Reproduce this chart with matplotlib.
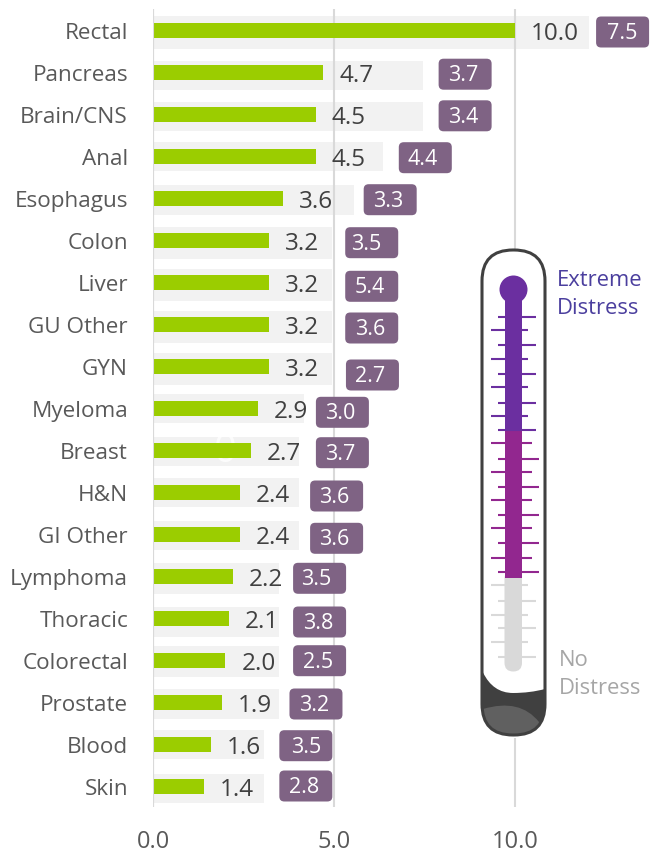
import numpy as np
import matplotlib
matplotlib.use('Agg')
import matplotlib.pyplot as plt
from matplotlib.patches import FancyBboxPatch, Circle, PathPatch, Rectangle
from matplotlib.path import Path
from matplotlib.transforms import IdentityTransform, ScaledTranslation

plt.rcParams['font.family'] = ['Open Sans', 'DejaVu Sans']

# data
cancers = ['Rectal', 'Pancreas', 'Brain/CNS', 'Anal', 'Esophagus', 'Colon', 'Liver',
           'GU Other', 'GYN', 'Myeloma', 'Breast', 'H&N', 'GI Other', 'Lymphoma',
           'Thoracic', 'Colorectal', 'Prostate', 'Blood', 'Skin']
green_vals = [10.0, 4.7, 4.5, 4.5, 3.6, 3.2, 3.2, 3.2, 3.2, 2.9, 2.7, 2.4, 2.4, 2.2, 2.1, 2.0, 1.9, 1.6, 1.4]
badge_vals = [7.5, 3.7, 3.4, 4.4, 3.3, 3.5, 5.4, 3.6, 2.7, 3.0, 3.7, 3.6, 3.6, 3.5, 3.8, 2.5, 3.2, 3.5, 2.8]
grey_vals = [12.05, 7.46, 7.46, 6.35, 5.55, 4.95, 4.95, 4.95, 4.95, 4.17, 4.03, 4.03, 4.03, 3.48, 3.48, 3.48, 3.48, 3.07, 3.07]

# layout: the rows are not quite regular
badge_left = [12.24, 7.89, 7.89, 6.79, 5.82, 5.31, 5.31, 5.31, 5.33, 4.50, 4.50, 4.34, 4.34, 3.87, 3.87, 3.87, 3.77, 3.49, 3.49]
badge_dy = [1.5, 1.7, 1.3, 1.2, 1.2, 2.2, 3.8, 3.5, 8.5, 3.8, 2.2, 3.5, 3.8, 1.8, 3.5, 0.2, 1.5, 1.2, -0.5]
badge_text_dx = [0, -2, -2, -3, -2.3, -6, -2, -2, -2.3, -2, -2, -2, -2, -3, -1.7, -2, -1.5, 0, -1.5]
grey_dy = [2, 3, 2, 0, 1.5, 2.5, 2.5, 2.5, 2.5, 0, 1, 0, 1, 2, 3.2, 0.8, 1.5, 0, 2]
grey_h = [33, 29, 29, 29, 30, 32, 32, 32, 32, 29, 29, 29, 29, 31, 30, 31, 30, 29, 29]

fig = plt.figure(figsize=(6.59, 8.57), dpi=100)
W, H = 659, 857
px_per_unit = 36.2
px_per_row = 42.0
ax = fig.add_axes([153 / W, (H - 807) / H, (W - 153) / W, (807 - 9) / H])
ax.set_xlim(0, (W - 153) / px_per_unit)
ax.set_ylim((807 - 30.5) / px_per_row, (9 - 30.5) / px_per_row)
ax.patch.set_visible(False)

rows = np.arange(len(cancers))
ax.barh(rows + np.array(grey_dy) / px_per_row, grey_vals, height=np.array(grey_h) / px_per_row, color='#f2f2f2', zorder=1)
ax.barh(rows, green_vals, height=15 / px_per_row, color='#9bcd00', zorder=3)
ax.axvline(0, color='#d9d9d9', lw=1.5, zorder=4)

for s in ax.spines.values():
    s.set_visible(False)
ax.set_xticks([0, 5, 10])
ax.set_xticklabels(['0.0', '5.0', '10.0'], fontsize=17, color='#595959')
ax.set_yticks(rows)
ax.set_yticklabels(cancers, fontsize=16.2, color='#595959')
ax.tick_params(axis='both', length=0)
ax.tick_params(axis='y', pad=18)
ax.tick_params(axis='x', pad=16.5)
ax.grid(axis='x', color='#d9d9d9', lw=1.5)
ax.set_axisbelow('line')
for lab in ax.get_yticklabels():
    lab.set_transform(lab.get_transform() + ScaledTranslation(0, -0.004, fig.dpi_scale_trans))

# value labels and badges
for i in rows:
    ax.annotate(f'{green_vals[i]:.1f}', (green_vals[i], i), xytext=(11.5, -2.5), textcoords='offset points',
                ha='left', va='center', fontsize=17.5, color='#404040', zorder=5)
    px, py = ax.transData.transform((badge_left[i], i))
    py -= badge_dy[i]
    box = FancyBboxPatch((px, py - 15.5), 53, 31, boxstyle='round,pad=0,rounding_size=5',
                         transform=IdentityTransform(), fc='#7f6384', ec='none', zorder=6, clip_on=False)
    ax.add_patch(box)
    ax.text(px + 26.5 + badge_text_dx[i], py - 1.5, f'{badge_vals[i]:.1f}', transform=IdentityTransform(), ha='center', va='center',
            fontsize=15.5, color='white', zorder=7)

# faint ghost character left on the Breast bar
ax.text(2.0, 10.02, '0', ha='center', va='center', fontsize=29, color='white', alpha=0.8, zorder=2)

# thermometer, in pixel coordinates
tx = fig.add_axes([0, 0, 1, 1], zorder=5)
tx.set_xlim(0, W)
tx.set_ylim(H, 0)
tx.axis('off')

# white halo so the 10.0 grid line stops short of the bottom
tx.add_patch(Rectangle((505, 732), 20, 6, fc='white', ec='none'))

shell = FancyBboxPatch((482, 250), 63, 485, boxstyle='round,pad=0,rounding_size=31', fc='white', ec='none')
tx.add_patch(shell)

fill = PathPatch(Path([(470, 672), (483, 672.5), (493, 693), (513, 693), (530, 693), (545, 689), (560, 689), (560, 750), (470, 750), (470, 672)],
                      [Path.MOVETO, Path.LINETO, Path.CURVE3, Path.CURVE3, Path.CURVE3, Path.CURVE3, Path.LINETO, Path.LINETO, Path.LINETO, Path.CLOSEPOLY]),
                 fc='#404040', ec='none')
tx.add_patch(fill)
fill.set_clip_path(shell)
lens = PathPatch(Path([(470, 710), (483, 709), (520, 698), (539, 722), (560, 750), (470, 750), (470, 710)],
                      [Path.MOVETO, Path.LINETO, Path.CURVE3, Path.CURVE3, Path.LINETO, Path.LINETO, Path.CLOSEPOLY]),
                 fc='#606060', ec='none')
tx.add_patch(lens)
lens.set_clip_path(shell)
tx.add_patch(FancyBboxPatch((482, 250), 63, 485, boxstyle='round,pad=0,rounding_size=31', fc='none', ec='#404040', lw=2.2))

purple = '#6b2fa0'
magenta = '#92278f'
pale = '#d9d9d9'
tick_a = [317, 345, 374, 403, 430, 459, 487, 515, 543, 572, 601, 628, 657]
tick_b = [330, 359, 387, 416, 443, 472, 500, 528, 558, 585, 615, 642]
for y in tick_a:
    c = purple if y <= 431 else (magenta if y < 578 else pale)
    x2 = 536 if c != magenta else 539
    tx.plot([498, x2], [y, y], color=c, lw=1.5, solid_capstyle='butt')
for y in tick_b:
    c = purple if y <= 431 else (magenta if y < 578 else pale)
    x2 = 528 if c != magenta else 532
    tx.plot([491, x2], [y, y], color=c, lw=1.5, solid_capstyle='butt')

tx.add_patch(FancyBboxPatch((504.5, 570), 17.5, 101.5, boxstyle='round,pad=0,rounding_size=8.7', fc=pale, ec='none'))
tx.add_patch(Rectangle((504.5, 431), 17.5, 147, fc=magenta, ec='none'))
tx.add_patch(Rectangle((504.5, 289), 17.5, 142, fc=purple, ec='none'))
tx.add_patch(Circle((513.5, 289.5), 14, fc=purple, ec='none'))

tx.text(557, 280.5, 'Extreme', fontsize=15.8, color='#4b3f9e', ha='left', va='center')
tx.text(557, 308.5, 'Distress', fontsize=15.8, color='#4b3f9e', ha='left', va='center')
tx.text(559, 660.5, 'No', fontsize=15.8, color='#a6a6a6', ha='left', va='center')
tx.text(559, 688.5, 'Distress', fontsize=15.8, color='#a6a6a6', ha='left', va='center')

fig.savefig('out.png', dpi=100)
